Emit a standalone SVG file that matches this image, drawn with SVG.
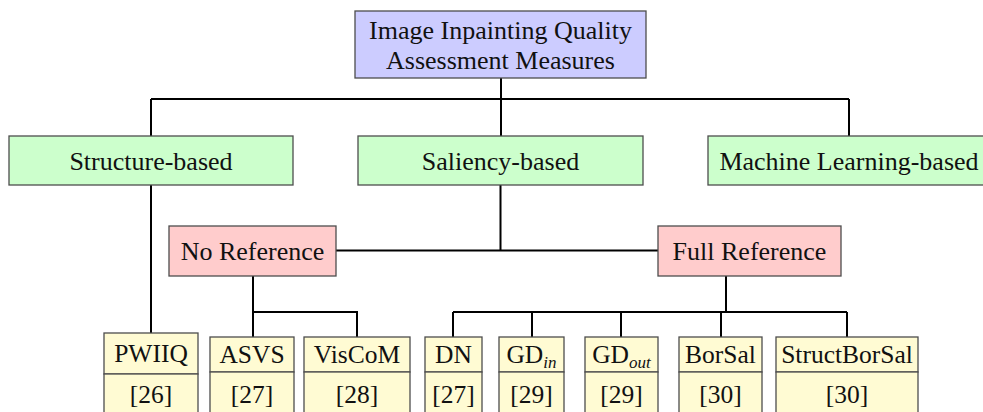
<svg xmlns="http://www.w3.org/2000/svg" width="983" height="412" viewBox="0 0 983 412">
<style>
text{font-family:"Liberation Serif","Times New Roman",serif;font-size:26px;fill:#111;text-anchor:middle}
.lt{font-size:25.5px}
.box{stroke:#4d4d4d;stroke-width:1.3}
.root{fill:#ccccff}
.cat{fill:#ccffcc}
.ref{fill:#ffcccc}
.leaf{fill:#fffbd3}
.sub{font-size:17px;font-style:italic}
#connectors path{fill:none;stroke:#000;stroke-width:2}
</style>
<rect width="983" height="412" fill="#fff"/>
<g id="connectors">
<path d="M501 78V99M151 99H849M151 99V136M501 99V136M849 99V136"/>
<path d="M500.5 185V250.5M336 250.5H658"/>
<path d="M151 185V333"/>
<path d="M253 276V337M253 312H357V337"/>
<path d="M726 276V312M453 312H847M453 312V337M532 312V337M621 312V337M721 312V337M847 312V337"/>
</g>
<g id="root"><rect class="box root" x="355" y="11" width="291" height="67"/><text x="500.5" y="38.5">Image Inpainting Quality</text><text x="500.5" y="68.5">Assessment Measures</text></g>
<g id="structure"><rect class="box cat" x="9" y="136" width="284" height="49"/><text x="151" y="170">Structure-based</text></g>
<g id="saliency"><rect class="box cat" x="358" y="136" width="285" height="49"/><text x="500.5" y="170">Saliency-based</text></g>
<g id="ml"><rect class="box cat" x="708" y="136" width="284" height="49"/><text x="849" y="170">Machine Learning-based</text></g>
<g id="noref"><rect class="box ref" x="169" y="226" width="167" height="50"/><text x="252.5" y="260">No Reference</text></g>
<g id="fullref"><rect class="box ref" x="658" y="226" width="183" height="50"/><text x="749.5" y="260">Full Reference</text></g>
<g id="pwiiq"><rect class="box leaf" x="104" y="333" width="94" height="41"/><rect class="box leaf" x="104" y="374" width="94" height="46"/><text class="lt" x="151" y="362">PWIIQ</text><text class="lt" x="151" y="403">[26]</text></g>
<g id="asvs"><rect class="box leaf" x="210" y="337" width="84" height="35"/><rect class="box leaf" x="210" y="372" width="84" height="48"/><text class="lt" x="252" y="363">ASVS</text><text class="lt" x="252" y="402.5">[27]</text></g>
<g id="viscom"><rect class="box leaf" x="304" y="337" width="106" height="35"/><rect class="box leaf" x="304" y="372" width="106" height="48"/><text class="lt" x="357" y="363">VisCoM</text><text class="lt" x="357" y="402.5">[28]</text></g>
<g id="dn"><rect class="box leaf" x="425" y="337" width="57" height="35"/><rect class="box leaf" x="425" y="372" width="57" height="48"/><text class="lt" x="453.5" y="363">DN</text><text class="lt" x="453.5" y="402.5">[27]</text></g>
<g id="gdin"><rect class="box leaf" x="499" y="337" width="65" height="35"/><rect class="box leaf" x="499" y="372" width="65" height="48"/><text class="lt" x="531.5" y="363">GD<tspan class="sub" dy="5">in</tspan></text><text class="lt" x="531.5" y="402.5">[29]</text></g>
<g id="gdout"><rect class="box leaf" x="585" y="337" width="73" height="35"/><rect class="box leaf" x="585" y="372" width="73" height="48"/><text class="lt" x="621.5" y="363">GD<tspan class="sub" dy="5">out</tspan></text><text class="lt" x="621.5" y="402.5">[29]</text></g>
<g id="borsal"><rect class="box leaf" x="679" y="337" width="83" height="35"/><rect class="box leaf" x="679" y="372" width="83" height="48"/><text class="lt" x="720.5" y="363">BorSal</text><text class="lt" x="720.5" y="402.5">[30]</text></g>
<g id="structborsal"><rect class="box leaf" x="776" y="337" width="142" height="35"/><rect class="box leaf" x="776" y="372" width="142" height="48"/><text class="lt" x="847" y="363">StructBorSal</text><text class="lt" x="847" y="402.5">[30]</text></g>
</svg>
